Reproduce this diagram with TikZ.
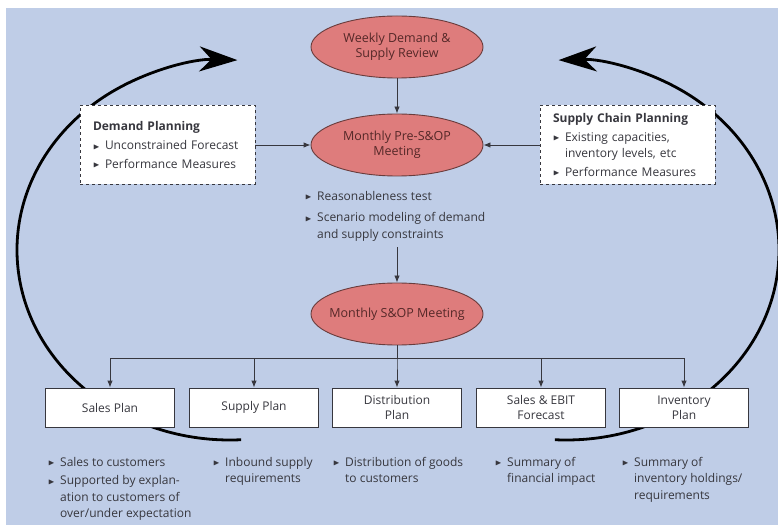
\documentclass[tikz,border=0pt]{standalone}
\usepackage{fontspec}
\setmainfont{Open Sans}
\usepackage{amssymb}
\usepackage{tikz}
\usetikzlibrary{arrows.meta,shapes.geometric,positioning}
\definecolor{bgBlue}   {RGB}{191,205,231}
\definecolor{meetRed}  {RGB}{222,124,124}
\definecolor{meetLine} {RGB}{105,60,60}
\definecolor{meetText} {RGB}{85,40,40}
\definecolor{txtGray}  {RGB}{55,55,62}
\newcommand{\bul}{\makebox[12pt][l]{\raisebox{0.5pt}{\fontsize{8.5}{8}\selectfont$\blacktriangleright$}}}
\newcommand{\ind}{\hspace*{12pt}}

\begin{document}
\begin{tikzpicture}[x=1pt,y=1pt,font=\fontsize{12}{16.5}\selectfont,text=txtGray,
    meeting/.style={ellipse,draw=meetLine,line width=0.9pt,fill=meetRed,text=meetText,
      font=\fontsize{12.5}{15.5}\selectfont,
      minimum width=172pt,minimum height=62pt,inner xsep=-8pt,inner ysep=0pt,align=center},
    planbox/.style={draw=txtGray,line width=0.9pt,fill=white,
      minimum width=129pt,minimum height=39pt,inner sep=0pt,align=center,
      font=\fontsize{12}{15}\selectfont},
    inputbox/.style={draw=txtGray,line width=0.9pt,dashed,fill=white,
      minimum width=175pt,minimum height=79pt,inner xsep=13pt,text width=149pt,align=left},
    notes/.style={anchor=north west,inner sep=0pt,align=left},
    flow/.style={-{Latex[length=7pt,width=5.5pt]},draw=txtGray,line width=0.9pt},
    cycle/.style={line width=2.8pt,-{Stealth[length=38pt,width=25pt,inset=12pt]}}]

  \useasboundingbox (0,0) rectangle (778,525);
  \fill[bgBlue] (6,0) rectangle (778,517);

  % big feedback loops (drawn first, boxes cover them)
  \draw[cycle] (230,275) ++(273:213 and 190)
    arc[start angle=273,end angle=88,x radius=213,y radius=190];
  \draw[cycle] (566,275) ++(-93:213 and 190)
    arc[start angle=-93,end angle=92,x radius=213,y radius=190];

  % meetings
  \node[meeting] (weekly) at (397,478) {Weekly Demand \&\\Supply Review};
  \node[meeting] (pre)    at (397,380) {Monthly Pre-S\&OP\\Meeting};
  \node[meeting] (sop)    at (397,211) {Monthly S\&OP Meeting};

  % inputs
  \node[inputbox] (demand) at (167.5,380)
    {\textbf{Demand Planning}\\[3pt]\bul Unconstrained Forecast\\[2pt]\bul Performance Measures};
  \node[inputbox] (supplychain) at (627.5,380)
    {\textbf{Supply Chain Planning}\\[2pt]\bul Existing capacities,\\\ind inventory levels, etc\\[2pt]\bul Performance Measures};

  \draw[flow] (weekly) -- (pre);
  \draw[flow] (demand.east) -- (pre.west);
  \draw[flow] (supplychain.west) -- (pre.east);

  % pre-S&OP checks
  \node[notes] (checks) at (305,334)
    {\bul Reasonableness test\\[5pt]\bul Scenario modeling of demand\\\ind and supply constraints};
  \draw[flow] ([yshift=-6pt]checks.south -| sop.north) -- (sop.north);

  % plans
  \node[planbox] (sales)  at (110,117.5) {Sales Plan};
  \node[planbox] (supply) at (254,117.5) {Supply Plan};
  \node[planbox] (dist)   at (397,117.5) {Distribution\\Plan};
  \node[planbox] (ebit)   at (541,117.5) {Sales \& EBIT\\Forecast};
  \node[planbox] (inv)    at (684,117.5) {Inventory\\Plan};

  \coordinate (bus) at ([yshift=-13pt]sop.south);
  \foreach \p in {sales,supply,dist,ebit,inv}{
    \draw[flow] (sop.south) -- (bus) -| (\p.north);
  }

  % plan contents
  \node[notes] (salesN) at (48,68)
    {\bul Sales to customers\\[2pt]\bul Supported by explan-\\\ind ation to customers of\\\ind over/under expectation};
  \node[notes] (supplyN) at (213,68) {\bul Inbound supply\\\ind requirements};
  \node[notes] (distN)   at (333,68) {\bul Distribution of goods\\\ind to customers};
  \node[notes] (ebitN)   at (495,68) {\bul Summary of\\\ind financial impact};
  \node[notes] (invN)    at (622,68) {\bul Summary of\\\ind inventory holdings/\\\ind requirements};

\end{tikzpicture}
\end{document}
